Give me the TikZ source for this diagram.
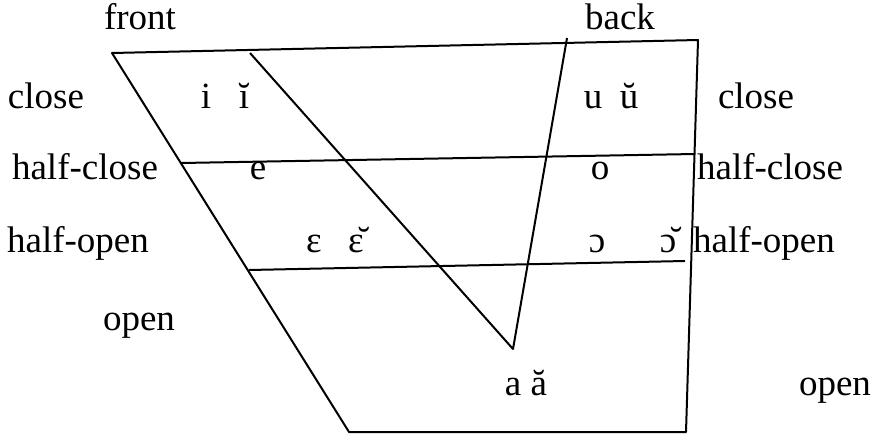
\documentclass[tikz,border=0pt]{standalone}
\usepackage{fontspec}
\setmainfont{Liberation Serif}
\usepackage{tikz}
\usetikzlibrary{calc}

\tikzset{
    lbl/.style={font=\fontsize{18.5}{22}\selectfont, inner sep=0pt, anchor=base},
    edge/.style={line width=1pt, line join=round}
}

\begin{document}
\begin{tikzpicture}[x=0.5pt, y=-0.5pt]
    \useasboundingbox (0,0) rectangle (872,434);
    % Corners of the chart
    \coordinate (tl) at (112,53);
    \coordinate (tr) at (698,40);
    \coordinate (br) at (686,432);
    \coordinate (bl) at (349,432);
    % Inner lines
    \coordinate (hcL) at (181,163);
    \coordinate (hcR) at (695,154);
    \coordinate (hoL) at (249,270);
    \coordinate (hoR) at (685,261);
    \coordinate (dTop) at (250,53);
    \coordinate (vBot) at (513,349);
    \coordinate (bTop) at (567,38);
    % Outline
    \draw[edge] (tl) -- (tr) -- (br) -- (bl) -- cycle;
    \draw[edge] (hcL) -- (hcR);
    \draw[edge] (hoL) -- (hoR);
    \draw[edge] (dTop) -- (vBot) -- (bTop);
    % Headings
    \node[lbl] (front) at (140,29) {front};
    \node[lbl] (back) at (620,29) {back};
    % Heights, left
    \node[lbl] (closeL) at (46,108) {close};
    \node[lbl] (hcloseL) at (85,179) {half-close};
    \node[lbl] (hopenL) at (78,252) {half-open};
    \node[lbl] (openL) at (139,330) {open};
    % Heights, right
    \node[lbl] (closeR) at (756,108) {close};
    \node[lbl] (hcloseR) at (770,179) {half-close};
    \node[lbl] (hopenR) at (764,252) {half-open};
    \node[lbl] (openR) at (835,395) {open};
    % Vowels
    \node[lbl] (vi) at (206,108) {i};
    \node[lbl] (vib) at (244,108) {ĭ};
    \node[lbl] (vu) at (593,108) {u};
    \node[lbl] (vub) at (629,108) {ŭ};
    \node[lbl] (ve) at (258,179) {e};
    \node[lbl] (vo) at (600,179) {o};
    \node[lbl] (veps) at (314,252) {ɛ};
    \node[lbl] (vepsb) at (356,252) {ɛ̆};
    \node[lbl] (voo) at (597,252) {ɔ};
    \node[lbl] (voob) at (668,252) {ɔ̆};
    \node[lbl] (va) at (526,395) {a ă};
\end{tikzpicture}
\end{document}
